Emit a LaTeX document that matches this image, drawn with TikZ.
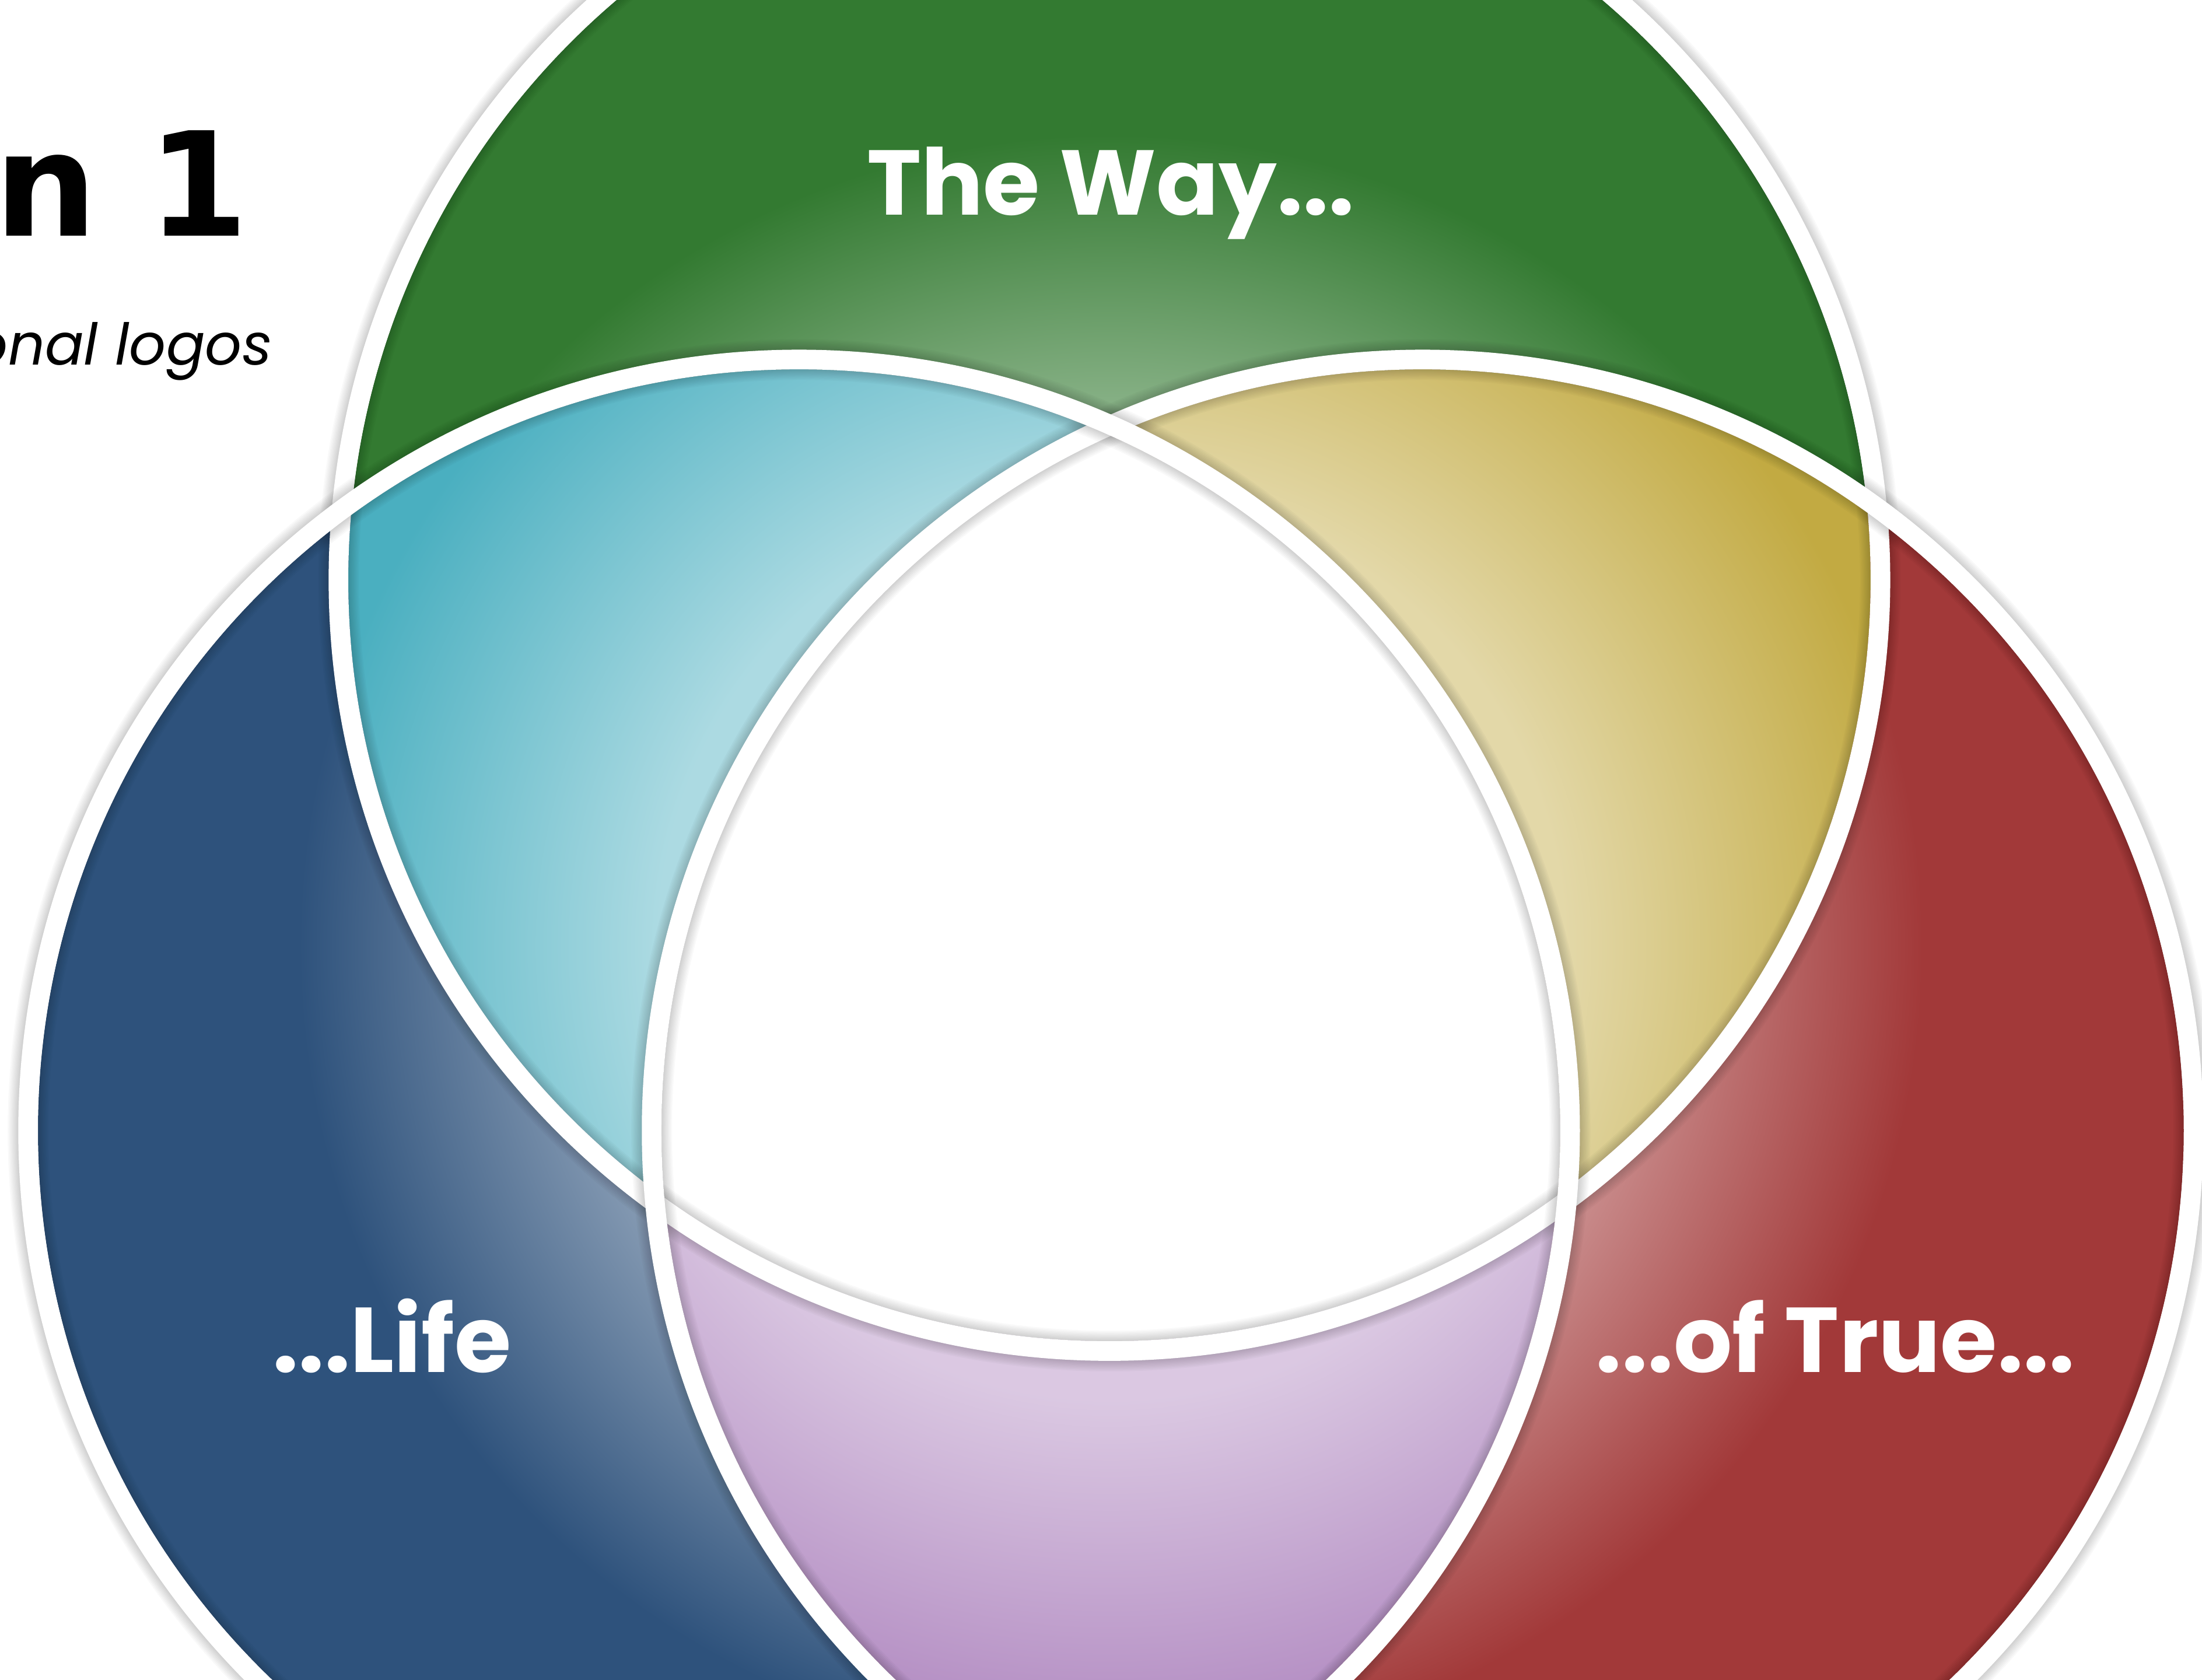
\documentclass[tikz,border=0pt]{standalone}
\usepackage{fontspec}
\setmainfont{Poppins}
\newfontfamily\headfont{DejaVu Sans}

\definecolor{greendk}{RGB}{51,122,49}
\definecolor{bluedk}{RGB}{46,82,124}
\definecolor{reddk}{RGB}{162,57,57}
\definecolor{cyandk}{RGB}{74,175,192}
\definecolor{golddk}{RGB}{194,170,66}
\definecolor{purpledk}{RGB}{176,136,192}
\colorlet{greenlt}{greendk!46!white}
\colorlet{bluelt}{bluedk!46!white}
\colorlet{redlt}{reddk!46!white}
\colorlet{cyanlt}{cyandk!46!white}
\colorlet{goldlt}{golddk!46!white}
\colorlet{purplelt}{purpledk!46!white}

% pale in the middle, full colour at the rim
\newcommand{\fadeshading}[1]{%
  \pgfdeclareradialshading{#1fade}{\pgfpoint{0bp}{0bp}}{%
    color(0bp)=(#1lt); color(9.5bp)=(#1lt); color(17bp)=(#1dk); color(50bp)=(#1dk)}}
\fadeshading{green}
\fadeshading{blue}
\fadeshading{red}
\fadeshading{cyan}
\fadeshading{gold}
\fadeshading{purple}

\tikzset{
  ring/.style={draw=white, line width=14pt},
  ringshade/.style={draw=black, draw opacity=0.025},
  venn label/.style={text=white, anchor=base, inner sep=0pt,
    font=\bfseries\fontsize{65.5}{78}\selectfont}
}

\begin{document}
\begin{tikzpicture}[x=1pt, y=1pt]
\fill[white] (0,0) rectangle (1568,1196);
\useasboundingbox (0,0) rectangle (1568,1196);

\coordinate (way) at (790,783);
\coordinate (life) at (569,391);
\coordinate (true) at (1013,391);
\coordinate (mid) at (791,522);

% the three circles
\begin{scope}
  \clip (way) circle (542);
  \shade[shading=greenfade] (mid) circle (850);
\end{scope}
\begin{scope}
  \clip (life) circle (542);
  \shade[shading=bluefade] (mid) circle (850);
\end{scope}
\begin{scope}
  \clip (true) circle (542);
  \shade[shading=redfade] (mid) circle (850);
\end{scope}

% overlaps
\begin{scope}
  \clip (way) circle (542);
  \clip (life) circle (542);
  \shade[shading=cyanfade] (mid) circle (850);
\end{scope}
\begin{scope}
  \clip (way) circle (542);
  \clip (true) circle (542);
  \shade[shading=goldfade] (mid) circle (850);
\end{scope}
\begin{scope}
  \clip (life) circle (542);
  \clip (true) circle (542);
  \shade[shading=purplefade] (mid) circle (850);
\end{scope}
\begin{scope}
  \clip (way) circle (542);
  \clip (life) circle (542);
  \clip (true) circle (542);
  \fill[white] (mid) circle (600);
\end{scope}

% white rims with a soft shadow
\foreach \ctr in {way, true, life} {
  \foreach \w in {15,17,...,29}
    \draw[ringshade, line width=\w pt] (\ctr) circle (549);
  \draw[ring] (\ctr) circle (549);
}

\node (waylabel) [venn label] at (791,1043) {The Way...};
\node (lifelabel) [venn label] at (279,219) {...Life};
\node (truelabel) [venn label] at (1307,219) {...of True...};

\node (title) [anchor=base east, inner sep=0pt,
  font=\headfont\bfseries\fontsize{103}{110}\selectfont] at (177,1028) {n 1};
\node (subtitle) [anchor=base east, inner sep=0pt,
  font=\itshape\fontsize{41}{48}\selectfont] at (194,936) {onal logos};
\end{tikzpicture}
\end{document}
